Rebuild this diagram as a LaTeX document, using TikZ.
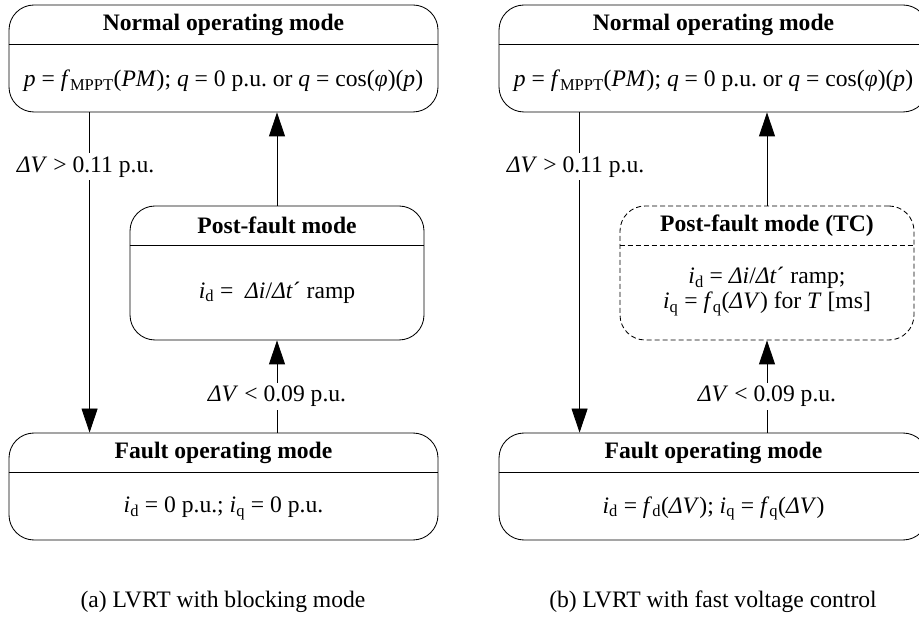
\documentclass[tikz,border=0pt]{standalone}
\usepackage{fontspec}
\setmainfont{Liberation Serif}
\usetikzlibrary{arrows.meta}
\frenchspacing
\begin{document}
\begin{tikzpicture}[x=1pt,y=-1pt,
  line width=0.85pt,
  modebox/.style={draw, rounded corners=25pt, minimum width=429pt, minimum height=107pt, inner sep=0pt},
  postbox/.style={draw, rounded corners=25pt, minimum width=294pt, minimum height=134pt, inner sep=0pt},
  txt/.style={font=\fontsize{23.6pt}{23pt}\selectfont, inner sep=0pt, align=center},
  twoline/.style={txt, font=\fontsize{23.6pt}{25.5pt}\selectfont},
  head/.style={txt, font=\fontsize{23.6pt}{23pt}\selectfont\bfseries},
  flow/.style={-{Triangle[length=24pt,width=16pt]}},
  cond/.style={txt, fill=white, inner sep=3pt},
  tc/.style={dash pattern=on 5pt off 3pt}
]
\useasboundingbox (0,0) rectangle (919,617);
\clip (0,0) rectangle (919,617);

% ---------- (a) blocking mode ----------
\node[modebox] (nA) at (223.5,58.5) {};
\node[postbox] (pA) at (277,273) {};
\node[modebox] (fA) at (223.5,486.5) {};
\draw ([yshift=-40pt]nA.north west) -- ([yshift=-40pt]nA.north east);
\draw ([yshift=-40pt]pA.north west) -- ([yshift=-40pt]pA.north east);
\draw ([yshift=-40pt]fA.north west) -- ([yshift=-40pt]fA.north east);

\node[head] (nAh) at ([yshift=-20pt]nA.north) {Normal operating mode};
\node[txt] (nAb) at ([yshift=-76pt]nA.north)
  {\textit{p} = \textit{f}\textsubscript{MPPT}(\textit{PM}); \textit{q} = 0 p.u. or \textit{q} = cos(\textit{φ})(\textit{p})};
\node[head] (pAh) at ([yshift=-20pt]pA.north) {Post-fault mode};
\node[txt] (pAb) at ([yshift=-87pt]pA.north)
  {\textit{i}\textsubscript{d} = \ \textit{Δi}/\textit{Δt}´ ramp};
\node[head] (fAh) at ([yshift=-20pt]fA.north) {Fault operating mode};
\node[txt] (fAb) at ([yshift=-76pt]fA.north)
  {\textit{i}\textsubscript{d} = 0 p.u.; \textit{i}\textsubscript{q} = 0 p.u.};

\draw[flow] ([xshift=81pt]nA.south west) --
  node[cond,pos=0.17,xshift=-4pt] {\textit{ΔV} > 0.11 p.u.} ([xshift=81pt]fA.north west);
\draw[flow] (pA.north) -- (pA.north |- nA.south);
\draw[flow] (fA.north -| pA.south) --
  node[cond,pos=0.39] {\textit{ΔV} < 0.09 p.u.} (pA.south);

\node[txt] (capA) at (223,602) {(a) LVRT with blocking mode};

% ---------- (b) fast voltage control ----------
\begin{scope}[xshift=490pt]
\node[modebox] (nB) at (223.5,58.5) {};
\node[postbox,tc] (pB) at (277,273) {};
\node[modebox] (fB) at (223.5,486.5) {};
\draw ([yshift=-40pt]nB.north west) -- ([yshift=-40pt]nB.north east);
\draw[tc] ([yshift=-40pt]pB.north west) -- ([yshift=-40pt]pB.north east);
\draw ([yshift=-40pt]fB.north west) -- ([yshift=-40pt]fB.north east);

\node[head] (nBh) at ([yshift=-20pt]nB.north) {Normal operating mode};
\node[txt] (nBb) at ([yshift=-76pt]nB.north)
  {\textit{p} = \textit{f}\textsubscript{MPPT}(\textit{PM}); \textit{q} = 0 p.u. or \textit{q} = cos(\textit{φ})(\textit{p})};
\node[head] (pBh) at ([yshift=-20pt]pB.north) {Post-fault mode (TC)};
\node[twoline] (pBb) at ([yshift=-86pt]pB.north)
  {\textit{i}\textsubscript{d} = \textit{Δi}/\textit{Δt}´ ramp;\\
   \textit{i}\textsubscript{q} = \textit{f}\textsubscript{q}(\textit{ΔV}) for \textit{T} [ms]};
\node[head] (fBh) at ([yshift=-20pt]fB.north) {Fault operating mode};
\node[txt] (fBb) at ([yshift=-76pt]fB.north)
  {\textit{i}\textsubscript{d} = \textit{f}\textsubscript{d}(\textit{ΔV}); \textit{i}\textsubscript{q} = \textit{f}\textsubscript{q}(\textit{ΔV})};

\draw[flow] ([xshift=81pt]nB.south west) --
  node[cond,pos=0.17,xshift=-4pt] {\textit{ΔV} > 0.11 p.u.} ([xshift=81pt]fB.north west);
\draw[flow] (pB.north) -- (pB.north |- nB.south);
\draw[flow] (fB.north -| pB.south) --
  node[cond,pos=0.39] {\textit{ΔV} < 0.09 p.u.} (pB.south);

\node[txt] (capB) at (223,602) {(b) LVRT with fast voltage control};
\end{scope}
\end{tikzpicture}
\end{document}
